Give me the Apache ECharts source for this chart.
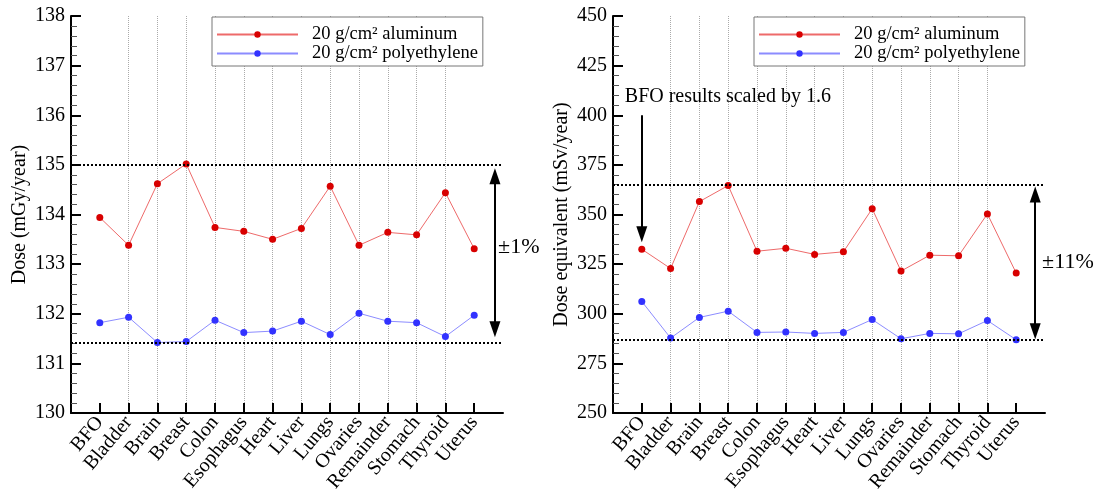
<!DOCTYPE html>
<html><head><meta charset="utf-8">
<script src="https://cdn.jsdelivr.net/npm/echarts@6/dist/echarts.min.js"></script>
<style>html,body{margin:0;padding:0;background:#fff;font-family:'Liberation Serif',serif}#c{width:1097px;height:490px}</style>
</head><body><div id="c"></div>
<script>
const categories = ['BFO','Bladder','Brain','Breast','Colon','Esophagus','Heart','Liver','Lungs','Ovaries','Remainder','Stomach','Thyroid','Uterus'];
const seriesNames = ['20 g/cm\u00b2 aluminum', '20 g/cm\u00b2 polyethylene'];
const doseAl = [133.94,133.38,134.62,135.02,133.74,133.66,133.50,133.72,134.57,133.38,133.64,133.59,134.44,133.31];
const dosePE = [131.82,131.93,131.42,131.44,131.87,131.62,131.65,131.85,131.58,132.01,131.85,131.82,131.54,131.97];
const doseEqAl = [332.5,322.8,356.5,364.6,331.5,333.0,329.9,331.2,352.9,321.5,329.5,329.2,350.3,320.5];
const doseEqPE = [306.2,287.75,298.15,301.3,290.6,290.8,290.1,290.6,297.1,287.4,290.1,289.9,296.6,286.9];
const doseRange = [130, 138, 1];
const doseEqRange = [250, 450, 25];
const doseBand = [135.0, 131.42];
const doseEqBand = [365, 286.8];
const doseArrow = [134.77, 131.69];
const doseEqArrow = [360.1, 291.2];
const bfoArrow = [400, 340];

const FONT = "'Liberation Serif', 'Times New Roman', serif";
const positions = categories.map((c, i) => i + 1);
const toPts = arr => arr.map((v, i) => [i + 1, v]);

function xAxis(g) {
  return {
    type: 'value', gridIndex: g, min: 0, max: categories.length + 1, interval: 1,
    axisLine: {show: true, lineStyle: {color: '#000', width: 2}},
    axisTick: {show: true, inside: true, length: 10, customValues: positions, lineStyle: {color: '#000', width: 2}},
    axisLabel: {customValues: positions, formatter: v => categories[v - 1] || '', rotate: 50, fontSize: 20,
      fontFamily: FONT, color: '#000', margin: 6},
    splitLine: {show: true, showMinLine: false, showMaxLine: false, lineStyle: {type: 'dotted', color: '#aaa', width: 1}}
  };
}
function yAxis(g, r, name) {
  return {
    type: 'value', gridIndex: g, min: r[0], max: r[1], interval: r[2],
    name: name, nameLocation: 'middle', nameGap: 41,
    nameTextStyle: {fontSize: 20, fontFamily: FONT, color: '#000'},
    axisLine: {show: true, lineStyle: {color: '#000', width: 2}},
    axisTick: {show: true, inside: true, length: 10, lineStyle: {color: '#000', width: 2}},
    minorTick: {show: true, splitNumber: 5, length: 6, lineStyle: {color: '#555', width: 1}},
    axisLabel: {fontSize: 20, fontFamily: FONT, color: '#000', margin: 6},
    splitLine: {show: false}
  };
}
const bandLine = {type: 'dotted', color: '#000', width: 2};
const arrowLine = {type: 'solid', color: '#000', width: 2};
function lineSeries(name, data, g, color, lineColor, extra) {
  return Object.assign({
    name: name, type: 'line', xAxisIndex: g, yAxisIndex: g, data: data,
    symbol: 'circle', symbolSize: 7,
    itemStyle: {color: color},
    lineStyle: {color: lineColor, width: 1},
    animation: false, z: 3
  }, extra || {});
}
function markers(band, arrow, arrowX, pctLabel, pctX, pctY) {
  return {
    markLine: {
      silent: true, animation: false, label: {show: false},
      data: [
        [{coord: [0, band[0]], symbol: 'none', lineStyle: bandLine}, {coord: [categories.length + 1, band[0]], symbol: 'none'}],
        [{coord: [0, band[1]], symbol: 'none', lineStyle: bandLine}, {coord: [categories.length + 1, band[1]], symbol: 'none'}],
        [{coord: [arrowX, arrow[0]], symbol: 'triangle', symbolSize: [11, 16], lineStyle: arrowLine},
         {coord: [arrowX, arrow[1]], symbol: 'triangle', symbolSize: [11, 16]}]
      ]
    },
    markPoint: {
      silent: true, animation: false, symbol: 'circle', symbolSize: 0,
      data: [{coord: [pctX, pctY], label: {show: true, position: 'right', distance: 0, formatter: pctLabel,
        fontSize: 22, fontFamily: FONT, color: '#000'}}]
    }
  };
}
function legend(left) {
  return {
    left: left, top: 17, orient: 'vertical', data: seriesNames,
    backgroundColor: '#fff', borderColor: '#777', borderWidth: 1,
    padding: [8, 5, 3, 4], itemGap: 0, itemWidth: 81, itemHeight: 8,
    textStyle: {fontSize: 18.5, fontFamily: FONT, color: '#000', lineHeight: 18, padding: [0, 0, 0, 9]},
    selectedMode: false
  };
}

const chart = echarts.init(document.getElementById('c'), null, {renderer: 'canvas'});
const leftM = markers(doseBand, doseArrow, 14.72, '\u00b11%', 14.83, 133.34);
const rightM = markers(doseEqBand, doseEqArrow, 14.66, '\u00b111%', 14.9, 326.1);
const bfoM = {
  markLine: {
    silent: true, animation: false, label: {show: false},
    data: [[{coord: [1, bfoArrow[0]], symbol: 'none', lineStyle: arrowLine},
            {coord: [1, bfoArrow[1]], symbol: 'triangle', symbolSize: [11, 16]}]]
  },
  markPoint: {
    silent: true, animation: false, symbol: 'circle', symbolSize: 0,
    data: [{coord: [0.41, 409.2], label: {show: true, position: 'right', distance: 0,
      formatter: 'BFO results scaled by 1.6', fontSize: 20, fontFamily: FONT, color: '#000'}}]
  }
};
chart.setOption({
  backgroundColor: '#fff',
  animation: false,
  textStyle: {fontFamily: FONT},
  grid: [
    {left: 71, top: 16, width: 432, height: 397, outerBoundsMode: 'none', containLabel: false},
    {left: 613, top: 16, width: 432, height: 397, outerBoundsMode: 'none', containLabel: false}
  ],
  xAxis: [xAxis(0), xAxis(1)],
  yAxis: [yAxis(0, doseRange, 'Dose (mGy/year)'), yAxis(1, doseEqRange, 'Dose equivalent (mSv/year)')],
  legend: [legend(212), legend(754)],
  series: [
    lineSeries(seriesNames[0], toPts(doseAl), 0, '#d80000', '#ee6a6a', leftM),
    lineSeries(seriesNames[1], toPts(dosePE), 0, '#3232ff', '#8c8cff'),
    lineSeries(seriesNames[0], toPts(doseEqAl), 1, '#d80000', '#ee6a6a', rightM),
    lineSeries(seriesNames[1], toPts(doseEqPE), 1, '#3232ff', '#8c8cff', bfoM)
  ]
});
</script></body></html>
